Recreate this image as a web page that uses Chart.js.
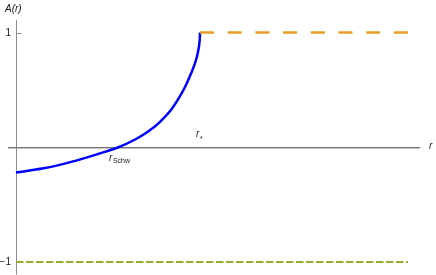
<!DOCTYPE html>
<html>
<head>
<meta charset="utf-8">
<script src="https://cdn.jsdelivr.net/npm/chart.js@4"></script>
<style>
  html, body { margin: 0; padding: 0; background: #fff; }
  #wrap { width: 436px; height: 275px; }
</style>
</head>
<body>
<div id="wrap"><canvas id="myChart"></canvas></div>
<script>
// data (r* = 1)
var rInner = [0, 0.15, 0.3, 0.45, 0.55, 0.65, 0.72, 0.78, 0.84, 0.88, 0.92, 0.95, 0.97, 0.985, 0.99, 0.995, 0.9975, 0.999, 1.0];
var aInner = [-0.22, -0.183, -0.127, -0.056, -0.004, 0.07, 0.14, 0.218, 0.32, 0.415, 0.53, 0.638, 0.72, 0.80, 0.84, 0.885, 0.92, 0.95, 1.0];
var rOuter = [1.0, 2.13];
var aOuter = [1, 1];
var rFloor = [0, 2.13];
var aFloor = [-1, -1];
var yTicks = [1, -1];
var yTickLabels = ['1', '\u22121'];

function pts(xs, ys) {
    return xs.map(function (x, i) { return { x: x, y: ys[i] }; });
}

// axes, ticks and labels drawn from the chart scales
var axesPlugin = {
    id: 'axes',
    beforeDatasetsDraw: function (chart) {
        var c = chart.ctx, sx = chart.scales.x, sy = chart.scales.y;
        var x0 = sx.getPixelForValue(0), y0 = sy.getPixelForValue(0);
        c.save();
        c.lineWidth = 1;
        // x axis
        c.strokeStyle = '#3a3a3a';
        c.beginPath();
        c.moveTo(sx.getPixelForValue(-0.0435), y0 + 0.5);
        c.lineTo(sx.getPixelForValue(2.196), y0 + 0.5);
        c.stroke();
        // y axis
        c.strokeStyle = '#8c8c8c';
        c.beginPath();
        c.moveTo(x0 + 0.5, sy.getPixelForValue(1.109));
        c.lineTo(x0 + 0.5, sy.getPixelForValue(-1.11));
        c.stroke();
        // ticks
        yTicks.forEach(function (v) {
            var py = Math.round(sy.getPixelForValue(v)) + 0.5;
            c.beginPath();
            c.moveTo(x0, py);
            c.lineTo(x0 + 5, py);
            c.stroke();
        });
        c.restore();
    },
    afterDraw: function (chart) {
        var c = chart.ctx, sx = chart.scales.x, sy = chart.scales.y;
        var x0 = sx.getPixelForValue(0), y0 = sy.getPixelForValue(0);
        c.save();
        c.fillStyle = '#1a1a1a';
        c.textBaseline = 'middle';
        c.textAlign = 'right';
        c.font = '10px "Liberation Sans", Arial, sans-serif';
        yTicks.forEach(function (v, i) {
            c.fillText(yTickLabels[i], x0 - 5, sy.getPixelForValue(v) + 0.5);
        });
        c.textBaseline = 'alphabetic';
        c.textAlign = 'left';
        // A(r)
        c.font = 'italic 10px "Liberation Sans", Arial, sans-serif';
        c.fillText('A(r)', 5, 12);
        // r on the x axis
        c.fillText('r', sx.getPixelForValue(2.245), y0 + 2);
        // r_Schw
        var xs = sx.getPixelForValue(0.505);
        c.fillText('r', xs, y0 + 14);
        c.font = '7px "Liberation Sans", Arial, sans-serif';
        c.fillText('Schw', xs + 4, y0 + 16);
        // r*
        var xr = sx.getPixelForValue(0.978);
        c.font = 'italic 10px "Liberation Sans", Arial, sans-serif';
        c.fillText('r', xr, y0 - 10);
        c.font = '7px "Liberation Sans", Arial, sans-serif';
        c.fillText('*', xr + 4, y0 - 6);
        c.restore();
    }
};

var ctx = document.getElementById('myChart').getContext('2d');
var myChart = new Chart(ctx, {
    type: 'scatter',
    data: {
        datasets: [{
            data: pts(rFloor, aFloor),
            showLine: true,
            borderColor: '#8fb032',
            borderWidth: 2,
            borderDash: [7.5, 2.5],
            pointRadius: 0
        }, {
            data: pts(rOuter, aOuter),
            showLine: true,
            borderColor: '#e69f25',
            borderWidth: 2.5,
            borderDash: [14, 13.7],
            pointRadius: 0
        }, {
            data: pts(rInner, aInner),
            showLine: true,
            borderColor: '#0000ff',
            borderWidth: 2.5,
            cubicInterpolationMode: 'monotone',
            pointRadius: 0
        }]
    },
    options: {
        responsive: true,
        maintainAspectRatio: false,
        animation: false,
        layout: { padding: 0 },
        scales: {
            x: { type: 'linear', display: false, min: -0.08696, max: 2.2826 },
            y: { type: 'linear', display: false, min: -1.1128, max: 1.2837 }
        },
        plugins: {
            legend: { display: false },
            tooltip: { enabled: false }
        }
    },
    plugins: [axesPlugin]
});
</script>
</body>
</html>
